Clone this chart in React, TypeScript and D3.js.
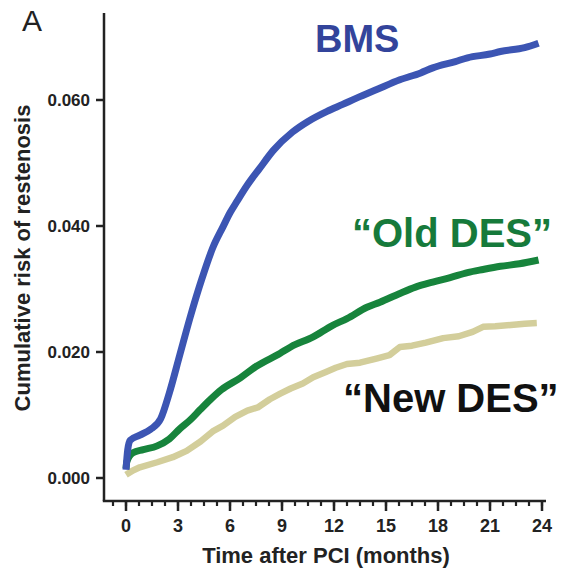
import React from "react";
import * as d3 from "d3";

// Cumulative restenosis risk by stent type, months after PCI
const bmsMonths = [0, 0.1, 0.25, 0.8, 1.4, 2.0, 2.5, 3.1, 3.7, 4.4, 5.0, 5.6, 6.0, 6.4, 7.0, 7.7, 8.5, 9.6, 10.5, 11.6, 12.5, 13.3, 14.5, 15.8, 17.0, 17.7, 19.0, 19.7, 21.0, 21.6, 23.0, 23.8];
const bmsRisk = [0.0013, 0.0045, 0.006, 0.0068, 0.0077, 0.0094, 0.0135, 0.0195, 0.0255, 0.0318, 0.0365, 0.0399, 0.0421, 0.0439, 0.0465, 0.0491, 0.052, 0.0549, 0.0566, 0.0582, 0.0593, 0.0603, 0.0617, 0.0632, 0.0643, 0.0651, 0.0661, 0.0667, 0.0673, 0.0677, 0.0683, 0.069];

const oldDesMonths = [0, 0.05, 0.4, 1.0, 1.8, 2.5, 3.1, 3.7, 4.3, 4.85, 5.5, 6.6, 7.5, 8.9, 9.5, 10.8, 11.9, 12.75, 13.9, 14.65, 15.8, 16.7, 17.7, 18.7, 19.7, 20.6, 21.6, 22.7, 23.8];
const oldDesRisk = [0.0015, 0.0026, 0.004, 0.0045, 0.0051, 0.0062, 0.0078, 0.0092, 0.0109, 0.0124, 0.014, 0.0159, 0.0177, 0.0198, 0.0208, 0.0224, 0.0242, 0.0253, 0.0271, 0.0279, 0.0293, 0.0303, 0.0311, 0.0318, 0.0326, 0.0331, 0.0336, 0.034, 0.0346];

const newDesMonths = [0, 0.4, 0.8, 1.8, 2.7, 3.5, 4.3, 5.0, 5.6, 6.3, 7.0, 7.6, 8.3, 8.9, 9.5, 10.2, 10.8, 11.5, 12.1, 12.75, 13.5, 14.5, 15.2, 15.8, 16.5, 17.3, 18.3, 19.2, 20.0, 20.6, 21.3, 22.2, 23.0, 23.7];
const newDesRisk = [0.0005, 0.0012, 0.0017, 0.0025, 0.0033, 0.0043, 0.0058, 0.0074, 0.0083, 0.0097, 0.0107, 0.0112, 0.0125, 0.0134, 0.0142, 0.015, 0.016, 0.0168, 0.0175, 0.0181, 0.0183, 0.019, 0.0195, 0.0208, 0.021, 0.0215, 0.0222, 0.0225, 0.0232, 0.024, 0.0241, 0.0243, 0.0245, 0.0246];

const yTicks = [0, 0.02, 0.04, 0.06];
const xMajorTicks = [0, 3, 6, 9, 12, 15, 18, 21, 24];
const xMinorTicks = d3.range(-0.75, 24.01, 0.75);

const FONT = "'Liberation Sans', Arial, Helvetica, sans-serif";

export default function App() {
  const W = 567;
  const H = 569;
  const x = d3.scaleLinear().domain([0, 24]).range([126, 542]);
  const y = d3.scaleLinear().domain([0, 0.06]).range([478, 100]);
  const axisX = 104;
  const axisY = 501;

  const smooth = d3
    .line<[number, number]>()
    .x((d) => x(d[0]))
    .y((d) => y(d[1]))
    .curve(d3.curveMonotoneX);
  const stepped = d3
    .line<[number, number]>()
    .x((d) => x(d[0]))
    .y((d) => y(d[1]))
    .curve(d3.curveLinear);

  const series = [
    { months: newDesMonths, risk: newDesRisk, color: "#d3ce9b", width: 6.5, gen: stepped },
    { months: oldDesMonths, risk: oldDesRisk, color: "#17843c", width: 7, gen: smooth },
    { months: bmsMonths, risk: bmsRisk, color: "#3c55b3", width: 7, gen: smooth },
  ];

  return (
    <svg
      width={W}
      height={H}
      style={{ position: "absolute", left: 0, top: 0, background: "#fff" }}
      fontFamily={FONT}
    >
      <rect width={W} height={H} fill="#fff" />
      <text x={22} y={31} fontSize={30} fill="#222">A</text>

      {/* axes */}
      <line x1={axisX} x2={axisX} y1={13} y2={axisY} stroke="#222" strokeWidth={2.5} />
      <line x1={axisX - 1.2} x2={546} y1={axisY} y2={axisY} stroke="#222" strokeWidth={2.5} />

      {yTicks.map((t) => (
        <g key={t}>
          <line x1={axisX - 8} x2={axisX} y1={y(t)} y2={y(t)} stroke="#222" strokeWidth={2.5} />
          <text
            x={90}
            y={y(t)}
            dy="0.36em"
            textAnchor="end"
            fontSize={17}
            fontWeight="bold"
            fill="#222"
          >
            {d3.format(".3f")(t)}
          </text>
        </g>
      ))}

      {xMinorTicks.map((t) => (
        <line key={"m" + t} x1={x(t)} x2={x(t)} y1={axisY} y2={axisY + 5} stroke="#222" strokeWidth={2.2} />
      ))}
      {xMajorTicks.map((t) => (
        <g key={t}>
          <line x1={x(t)} x2={x(t)} y1={axisY} y2={axisY + 10} stroke="#222" strokeWidth={2.5} />
          <text x={x(t)} y={532} textAnchor="middle" fontSize={18} fontWeight="bold" fill="#222">
            {t}
          </text>
        </g>
      ))}

      <text x={326} y={563} textAnchor="middle" fontSize={22} fontWeight="bold" fill="#222">
        Time after PCI (months)
      </text>
      <text
        transform="translate(30,258) rotate(-90)"
        textAnchor="middle"
        fontSize={22}
        fontWeight="bold"
        fill="#222"
      >
        Cumulative risk of restenosis
      </text>

      {/* curves */}
      {series.map((s, i) => (
        <path
          key={i}
          d={s.gen(s.months.map((m, j) => [m, s.risk[j]] as [number, number])) || ""}
          fill="none"
          stroke={s.color}
          strokeWidth={s.width}
          strokeLinejoin="round"
        />
      ))}

      {/* series labels */}
      <text x={315} y={52} fontSize={38} fontWeight="bold" fill="#33449b">BMS</text>
      <text x={352} y={247} fontSize={40} fontWeight="bold" fill="#167a3b">“Old DES”</text>
      <text x={343} y={412} fontSize={40} fontWeight="bold" fill="#111">“New DES”</text>
    </svg>
  );
}
